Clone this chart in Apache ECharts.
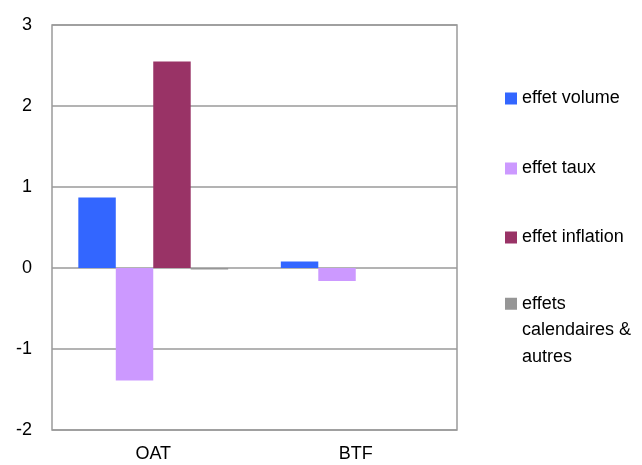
<!DOCTYPE html>
<html>
<head>
<meta charset="utf-8">
<script src="https://cdn.jsdelivr.net/npm/echarts@6/dist/echarts.min.js"></script>
<style>
  html, body { margin: 0; padding: 0; background: #fff; }
  #chart { width: 642px; height: 465px; }
</style>
</head>
<body>
<div id="chart"></div>
<script>
// Contributions par effet, OAT et BTF
const categories = ['OAT', 'BTF'];
const seriesNames = ['effet volume', 'effet taux', 'effet inflation', 'effets\ncalendaires &\nautres'];
const effetVolume = [0.87, 0.08];
const effetTaux = [-1.39, -0.16];
const effetInflation = [2.55, 0];
const effetsAutres = [-0.02, 0];
const yTicks = [-2, -1, 0, 1, 2, 3];

const colors = ['#3366FF', '#CC99FF', '#993366', '#969696'];
const values = [effetVolume, effetTaux, effetInflation, effetsAutres];
const font = 'Liberation Sans, Arial, sans-serif';

const chart = echarts.init(document.getElementById('chart'), null, { renderer: 'canvas' });

// Each legend entry is its own block so the vertical spacing can be set freely.
const legendTops = [89.5, 159.5, 228.5];
const legends = seriesNames.map((name, i) => {
  const base = {
    data: [name],
    left: 505,
    padding: 0,
    itemWidth: 12,
    itemHeight: 12,
    itemGap: 0,
    icon: 'rect',
    selectedMode: false,
    textStyle: { fontFamily: font, fontSize: 18, color: '#000' }
  };
  if (i < 3) {
    base.top = legendTops[i];
  } else {
    // tall transparent icon box keeps the swatch level with the first text line
    base.itemHeight = 65;
    base.icon = 'path://M0,0H12V12H0Z M0,65H0.01';
    base.textStyle.lineHeight = 26.5;
    base.top = 290.5;
  }
  return base;
});

chart.setOption({
  animation: false,
  backgroundColor: '#fff',
  color: colors,
  grid: {
    left: 52, right: 185, top: 25, bottom: 35,
    show: true, borderColor: '#9a9a9a', borderWidth: 1.5
  },
  legend: legends,
  xAxis: {
    type: 'category',
    data: categories,
    axisLine: { show: false },
    axisTick: { show: false },
    axisLabel: { margin: 15, fontFamily: font, fontSize: 18, color: '#000' }
  },
  yAxis: {
    type: 'value',
    min: yTicks[0],
    max: yTicks[yTicks.length - 1],
    interval: 1,
    axisLine: { show: false },
    axisTick: { show: false },
    axisLabel: { margin: 20, fontFamily: font, fontSize: 18, color: '#000' },
    splitLine: { lineStyle: { color: '#9a9a9a', width: 1.5 } }
  },
  series: seriesNames.map((name, i) => ({
    name: name,
    type: 'bar',
    data: values[i],
    barGap: '0%',
    barCategoryGap: '26%',
    itemStyle: { color: colors[i] }
  }))
});
</script>
</body>
</html>
